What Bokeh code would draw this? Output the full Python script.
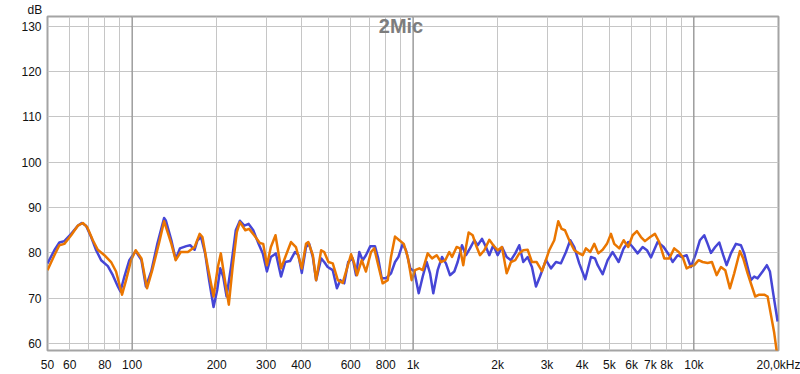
from bokeh.plotting import figure
from bokeh.models import FixedTicker, Span, Label, Range1d, Title
from bokeh.embed import file_html
from bokeh.resources import INLINE

# ---- data ----
blue_freq = [50, 52.9, 55.1, 57.4, 60.7, 64.1, 66.2, 68.6, 71.5, 74.5,
             77.6, 82.0, 85.4, 89.0, 90.9, 93.9, 97.8, 103, 108, 112,
             117, 123, 130, 132, 138, 143, 148, 156, 161, 167,
             171, 176, 182, 188, 195, 201, 206, 211, 217, 225,
             234, 242, 251, 260, 270, 282, 292, 302, 312, 325,
             339, 351, 365, 380, 391, 402, 416, 427, 440, 452,
             471, 483, 497, 518, 536, 551, 569, 588, 610, 627,
             644, 662, 680, 705, 732, 752, 774, 801, 835, 863,
             887, 919, 944, 978, 1011, 1048, 1083, 1119, 1150, 1181,
             1224, 1268, 1310, 1354, 1403, 1442, 1494, 1544, 1595, 1653,
             1699, 1760, 1819, 1869, 1931, 2002, 2074, 2155, 2232, 2312,
             2389, 2469, 2559, 2651, 2740, 2831, 2974, 3098, 3228, 3362,
             3503, 3629, 3750, 3906, 4104, 4300, 4444, 4543, 4732, 4930,
             5136, 5395, 5621, 5837, 6051, 6304, 6568, 6803, 7030, 7426,
             7801, 8167, 8398, 8749, 9063, 9419, 9757, 10165, 10504, 10881,
             11189, 11495, 11906, 12304, 12713, 13072, 13542, 14109, 14697, 15100,
             15527, 15953, 16390, 16854, 17557, 18186, 18639, 19150, 19854]
blue_db = [77.7, 80.6, 82.3, 82.6, 84.2, 86, 86.6, 86, 83.5, 80.6,
           78.4, 77.1, 75.1, 72.6, 71.5, 74.8, 78.4, 80.4, 78.4, 72.6,
           75.9, 82, 87.7, 87.1, 82.8, 78.6, 81, 81.5, 81.7, 80.7,
           82.8, 83.5, 79.9, 74, 68.1, 71.9, 76.6, 74.8, 70.4, 76.9,
           85, 87.1, 86, 86.4, 85, 82, 79.9, 75.9, 79.1, 79.9,
           74.8, 78, 78.2, 80.2, 79.5, 75.6, 81.3, 82, 79.1, 74,
           78.8, 78, 76.9, 76.2, 72.2, 74, 73.3, 78, 78.8, 75.1,
           80.2, 78.4, 79.5, 81.5, 81.5, 78.8, 74.4, 74.4, 75.5, 78,
           79.1, 82, 80.6, 76.6, 75.9, 71.1, 74.8, 78, 75.5, 71.1,
           76.2, 79.1, 77.7, 75.1, 75.9, 78, 81.7, 79.5, 81, 82.8,
           81.7, 83.1, 81.3, 79.5, 81.7, 79.5, 81.3, 79.1, 78.4, 79.9,
           81.7, 78, 79.1, 76.9, 72.6, 74.8, 78.4, 76.6, 78, 77.7,
           80.2, 82.8, 81.3, 77.7, 74.2, 79.1, 78.8, 77.3, 75.3, 78.4,
           80.2, 78, 81, 82.4, 81.3, 79.9, 81.3, 80.6, 79, 82.4,
           81.3, 79.5, 78, 79.5, 79.1, 79.5, 76.9, 79.9, 82.8, 83.9,
           82, 80, 81.3, 82.3, 79.5, 77.3, 79.9, 82, 81.7, 79.9,
           76.9, 74, 74.8, 74.4, 75.9, 77.3, 75.9, 71.1, 64.9]

orange_freq = [50, 52.9, 55.1, 57.4, 60.7, 64.1, 66.8, 69.2, 72.5, 75.5,
               79.7, 84.2, 87.7, 92.1, 95.2, 99.2, 103, 108, 113, 118,
               125, 130, 138, 143, 149, 158, 167, 174, 178, 186,
               195, 202, 207, 213, 221, 228, 236, 242, 253, 261,
               272, 285, 293, 302, 312, 324, 339, 353, 368, 383,
               402, 416, 424, 440, 452, 471, 483, 500, 518, 540,
               562, 582, 602, 618, 632, 657, 680, 709, 728, 752,
               780, 813, 835, 863, 894, 927, 958, 989, 1017, 1053,
               1083, 1128, 1169, 1214, 1257, 1303, 1346, 1377, 1430, 1470,
               1510, 1544, 1578, 1631, 1676, 1732, 1794, 1869, 1931, 2002,
               2074, 2155, 2232, 2312, 2389, 2469, 2559, 2651, 2756, 2878,
               2974, 3055, 3183, 3289, 3382, 3475, 3599, 3750, 3906, 4017,
               4127, 4275, 4418, 4566, 4732, 4902, 5066, 5204, 5422, 5621,
               5837, 6051, 6268, 6477, 6693, 6989, 7264, 7524, 7839, 8167,
               8509, 8825, 9115, 9419, 9757, 10025, 10393, 10739, 11189, 11589,
               12045, 12477, 12924, 13430, 13912, 14304, 14579, 14977, 15527, 16085,
               16526, 17075, 17789, 18290, 18791, 19309, 19741]
orange_db = [76.2, 79.5, 81.7, 82, 83.9, 86, 86.6, 85.7, 82.8, 80.7,
             79.5, 78, 75.9, 70.8, 74, 78.4, 80.6, 78.8, 72.2, 76.2,
             82.4, 87, 82, 78.4, 80.2, 80.2, 81.3, 84.2, 83.5, 76.9,
             70.4, 76.9, 79.9, 74.8, 68.6, 76.9, 84.6, 86.8, 85, 85.3,
             83.9, 82.2, 82, 77.3, 81.3, 83.9, 76.6, 79.5, 82.4, 81.3,
             76.6, 82, 82.4, 79.5, 74, 80.6, 80.2, 78, 77.7, 74,
             73.4, 76.6, 79.7, 77.7, 75.1, 78.4, 75.9, 80.2, 81, 77.3,
             73.3, 74, 79.1, 83.6, 82.8, 82, 79.1, 74, 76.2, 76.6,
             76.2, 79.9, 78.8, 79.5, 78, 78.4, 80.2, 79.1, 81.3, 81,
             77.3, 81.3, 84.5, 83.9, 81.7, 79.5, 80.6, 82.9, 81.7, 80.6,
             81.3, 75.5, 78, 78.4, 79.9, 80.6, 80.7, 78, 78, 76.0,
             78.5, 80.6, 82.8, 87, 85.3, 85, 82.8, 80.6, 79.9, 79.5,
             81, 80.2, 82, 79.9, 80.7, 82, 84.2, 82, 81, 82.8,
             81.3, 83.9, 84.8, 83.5, 82.6, 83.5, 84.2, 82.4, 78.8, 78.8,
             81, 80.2, 79.1, 76.6, 77.1, 77.3, 78.4, 78, 77.8, 78,
             75.1, 76.9, 76.2, 72.2, 75.5, 78.4, 80.4, 78.8, 75.5, 72.6,
             70.4, 70.8, 70.8, 70.4, 66.4, 62.4, 58]

x_grid_ticks = [50, 60, 70, 80, 90, 100, 200, 300, 400, 500, 600, 700, 800, 900,
                1000, 2000, 3000, 4000, 5000, 6000, 7000, 8000, 9000, 10000, 20000]
x_tick_labels = {50: "50", 60: "60", 70: "", 80: "80", 90: "", 100: "100",
                 200: "200", 300: "300", 400: "400", 500: "", 600: "600",
                 700: "", 800: "800", 900: "", 1000: "1k", 2000: "2k", 3000: "3k",
                 4000: "4k", 5000: "5k", 6000: "6k", 7000: "7k", 8000: "8k",
                 9000: "", 10000: "10k", 20000: "20,0kHz"}
decades = [100, 1000, 10000]
y_ticks = [60, 70, 80, 90, 100, 110, 120, 130]
x_min, x_max = 50, 20000
y_min, y_max = 58.5, 132.1
title_text = "2Mic"
unit_y = "dB"

FONT = "Liberation Sans"

p = figure(width=800, height=374, x_axis_type="log",
           x_range=Range1d(x_min, x_max), y_range=Range1d(y_min, y_max),
           output_backend="svg", toolbar_location=None,
           min_border_left=47, min_border_right=22,
           min_border_top=14, min_border_bottom=22)

p.background_fill_color = "white"
p.border_fill_color = "white"
p.outline_line_color = "#a4a4a4"
p.outline_line_width = 2

p.xaxis.ticker = FixedTicker(ticks=x_grid_ticks, minor_ticks=[])
p.yaxis.ticker = FixedTicker(ticks=y_ticks, minor_ticks=[])
p.xaxis.major_label_overrides = x_tick_labels

for ax in (p.xaxis, p.yaxis):
    ax.axis_line_color = None
    ax.major_tick_line_color = None
    ax.minor_tick_line_color = None
    ax.major_tick_out = 0
    ax.major_tick_in = 0
    ax.minor_tick_out = 0
    ax.minor_tick_in = 0
    ax.major_label_text_font = FONT
    ax.major_label_text_font_size = "12px"
    ax.major_label_text_color = "#111111"
p.xaxis.major_label_standoff = 7
p.yaxis.major_label_standoff = 6

p.xgrid.grid_line_color = "#c6c6c6"
p.ygrid.grid_line_color = "#c6c6c6"
p.xgrid.grid_line_width = 1
p.ygrid.grid_line_width = 1

for d in decades:
    p.add_layout(Span(location=d, dimension="height", line_color="#858585", line_width=1))

p.line(blue_freq, blue_db, line_color="#4646d6", line_width=2.5, line_join="round")
p.line(orange_freq, orange_db, line_color="#ea7600", line_width=2.5, line_join="round")

p.add_layout(Label(x=1000, y=130, x_offset=-12, text=title_text,
                   text_font=FONT, text_font_style="bold", text_font_size="20px",
                   text_color="#7d7d7d", text_align="center", text_baseline="middle"))
p.add_layout(Title(text=unit_y, align="left", offset=-20, standoff=0,
                   text_font=FONT, text_font_size="12px", text_font_style="normal",
                   text_color="#111111"), "above")

open("out.html", "w").write(file_html(p, INLINE))
